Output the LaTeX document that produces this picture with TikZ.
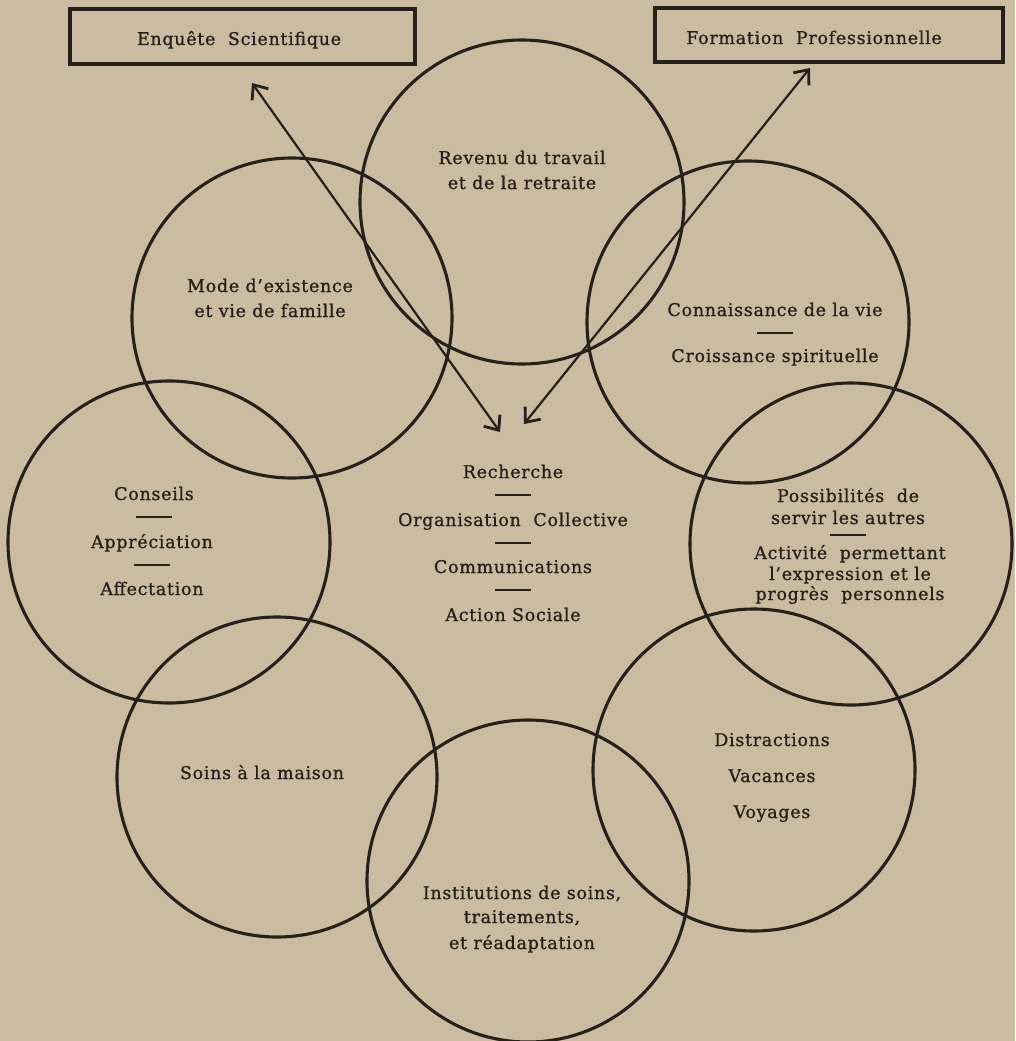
\documentclass[tikz,border=0pt]{standalone}
\usepackage{fontspec}
\setmainfont{DejaVu Serif}[LetterSpace=4,FakeBold=0.9]
\usetikzlibrary{arrows.meta}
\definecolor{paper}{RGB}{202,187,161}
\definecolor{ink}{RGB}{38,32,27}
\begin{document}
\begin{tikzpicture}[x=1pt,y=-1pt,
  ring/.style={circle,draw=ink,line width=3.1pt,minimum size=#1,inner sep=0pt},
  lab/.style={text=ink,font=\fontsize{17.5}{20}\selectfont,inner sep=0pt,anchor=base},
  box/.style={rectangle,draw=ink,line width=3.1pt,inner sep=0pt},
  dashr/.style={inner sep=0pt,text=ink},
  arr/.style={draw=ink,line width=2.2pt,{Straight Barb[length=12pt,width=20pt,line width=2.8pt]}-{Straight Barb[length=12pt,width=20pt,line width=2.8pt]}}
]
\fill[paper] (0,0) rectangle (1015,1041);
\useasboundingbox (0,0) rectangle (1015,1041);

% boxes
\node[box,minimum width=345pt,minimum height=55pt] (enq) at (242.5,36.5) {};
\node[lab] (enqT) at (239,45) {Enquête\ \ Scientifique};
\node[box,minimum width=348pt,minimum height=54pt] (form) at (829,35) {};
\node[lab] (formT) at (814,44) {Formation\ \ Professionnelle};

% circles
\node[ring=324pt] (c1) at (522,202) {};
\node[ring=320pt] (c2) at (292,318) {};
\node[ring=322pt] (c3) at (748,322) {};
\node[ring=322pt] (c4) at (169,542) {};
\node[ring=322pt] (c5) at (851,544) {};
\node[ring=320pt] (c6) at (277,777) {};
\node[ring=322pt] (c7) at (754,770) {};
\node[ring=322pt] (c8) at (528,881) {};

% arrows
\coordinate (a1s) at (252,83);
\coordinate (a1e) at (500,432);
\coordinate (a2s) at (810,68);
\coordinate (a2e) at (524,424);
\draw[arr] (a1s) -- (a1e);
\draw[arr] (a2s) -- (a2e);

% texts
\node[lab] (t1a) at (522,164) {Revenu du travail};
\node[lab] (t1b) at (522,189) {et de la retraite};

\node[lab] (t2a) at (270,292) {Mode d'existence};
\node[lab] (t2b) at (270,317) {et vie de famille};

\node[lab] (t3a) at (775,316) {Connaissance de la vie};
\node[dashr] (t3d) at (775,333) {\rule{36pt}{2pt}};
\node[lab] (t3b) at (775,362) {Croissance spirituelle};

\node[lab] (m1) at (513,478) {Recherche};
\node[dashr] (md1) at (513,495) {\rule{36pt}{2pt}};
\node[lab] (m2) at (513,526) {Organisation\ \ Collective};
\node[dashr] (md2) at (513,543) {\rule{36pt}{2pt}};
\node[lab] (m3) at (513,573) {Communications};
\node[dashr] (md3) at (513,590) {\rule{36pt}{2pt}};
\node[lab] (m4) at (513,621) {Action Sociale};

\node[lab] (l1) at (154,500) {Conseils};
\node[dashr] (ld1) at (154,517) {\rule{36pt}{2pt}};
\node[lab] (l2) at (152,548) {Appréciation};
\node[dashr] (ld2) at (152,565) {\rule{36pt}{2pt}};
\node[lab] (l3) at (152,595) {Affectation};

\node[lab] (r1) at (848,502) {Possibilités\ \ de};
\node[lab] (r2) at (848,524) {servir\ les\ autres};
\node[dashr] (rd) at (848,535) {\rule{36pt}{2pt}};
\node[lab] (r3) at (850,559) {Activité\ \ permettant};
\node[lab] (r4) at (850,580) {l'expression\ et\ le};
\node[lab] (r5) at (850,600) {progrès\ \ personnels};

\node[lab] (s1) at (262,779) {Soins à la maison};

\node[lab] (d1) at (772,746) {Distractions};
\node[lab] (d2) at (772,782) {Vacances};
\node[lab] (d3) at (772,818) {Voyages};

\node[lab] (i1) at (522,899) {Institutions\ de\ soins,};
\node[lab] (i2) at (522,923) {traitements,};
\node[lab] (i3) at (522,949) {et réadaptation};
\end{tikzpicture}
\end{document}
